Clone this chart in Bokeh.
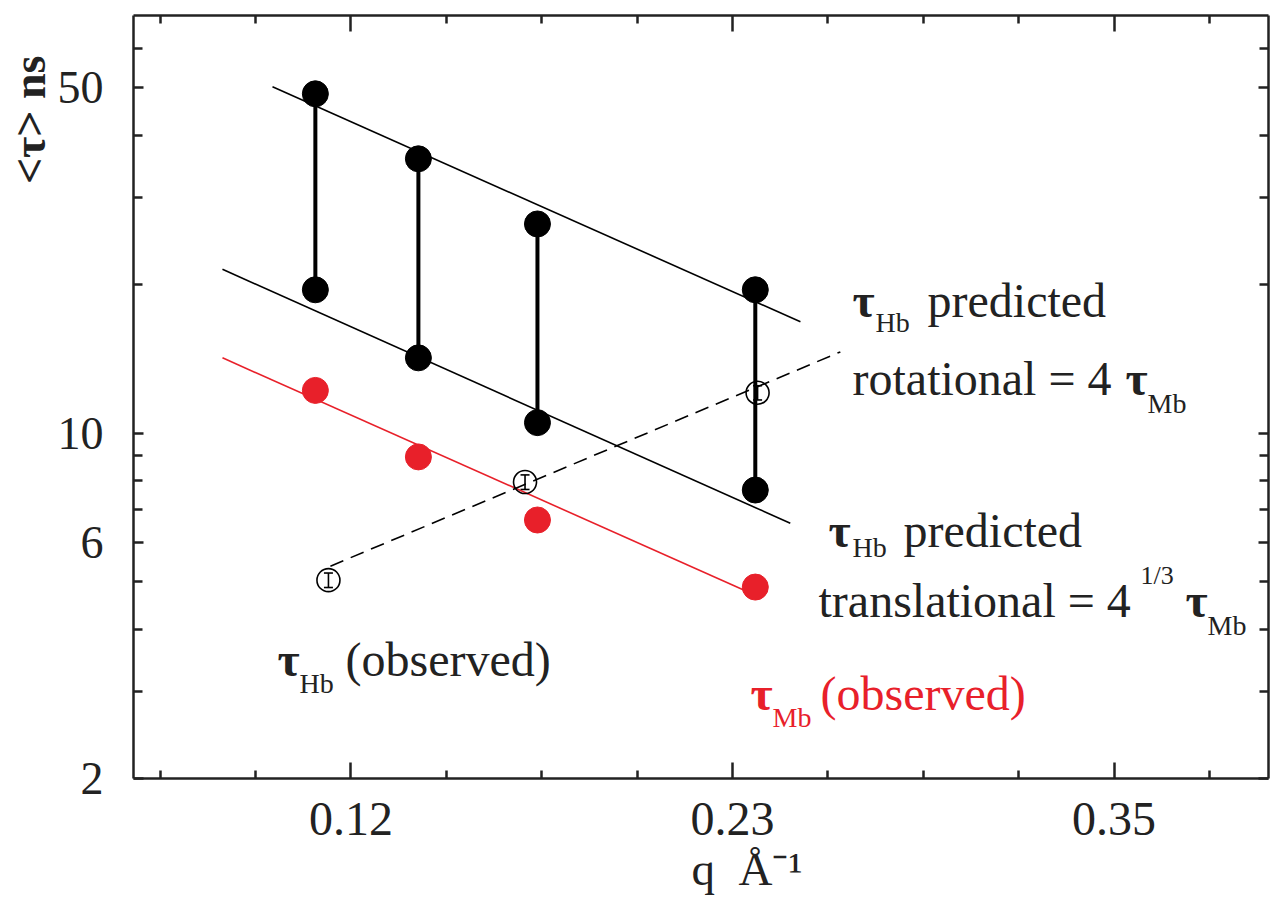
import math
from bokeh.plotting import figure
from bokeh.models import (FixedTicker, LinearAxis, LogAxis, Label, Whisker, TeeHead,
                          ColumnDataSource, Title, CustomJSTickFormatter)
from bokeh.embed import file_html
from bokeh.resources import INLINE

# ---------------- data ----------------
Q = [0.1058, 0.1373, 0.1737, 0.2403]               # q (1/Angstrom)
TAU_HB_ROT = [48.6, 35.9, 26.5, 19.5]              # tau_Hb predicted rotational (ns)
TAU_HB_TRANS = [19.5, 14.2, 10.5, 7.67]            # tau_Hb predicted translational (ns)
TAU_MB_OBS = [12.2, 8.95, 6.67, 4.88]              # tau_Mb observed (ns)

Q_HB_OBS = [0.1098, 0.1699, 0.2410]                # tau_Hb observed
TAU_HB_OBS = [5.04, 7.96, 12.07]
ERR_HB_OBS = [0.17, 0.27, 0.40]

ROT_LINE_Q = [0.0927, 0.2541]
ROT_LINE_TAU = [50.2, 16.8]
TRANS_LINE_Q = [0.0774, 0.2510]
TRANS_LINE_TAU = [21.45, 6.57]
MB_LINE_Q = [0.0774, 0.2419]
MB_LINE_TAU = [14.2, 4.65]
HB_OBS_LINE_Q = [0.1104, 0.2663]
HB_OBS_LINE_TAU = [5.38, 14.6]

X_MAJOR = [7 / 60, 14 / 60, 21 / 60]
X_LABELS = ["0.12", "0.23", "0.35"]
X_MINOR = [0.058333, 0.0875, 0.145833, 0.175, 0.204167, 0.2625, 0.291667, 0.320833, 0.379167]
Y_MAJOR = [2, 6, 10, 50]
Y_LABELS = ["2", "6", "10", "50"]
Y_MINOR = [3, 4, 5, 7, 8, 9, 20, 30, 40, 60]

XS, XE = 0.0502, 0.3972
YS, YE = 2, 70

W, H = 1274, 911
BL, BR, BT, BB = 133, 6, 15, 133

FONT = "Liberation Serif"
INK = "#222222"
RED = "#e8202a"

p = figure(width=W, height=H, x_range=(XS, XE), y_range=(YS, YE), y_axis_type="log",
           output_backend="svg", toolbar_location=None,
           min_border_left=BL, min_border_right=BR, min_border_top=BT, min_border_bottom=BB)
p.grid.visible = False
p.outline_line_color = None
p.background_fill_color = "white"
p.border_fill_color = "white"

def style_axis(ax, labels=True):
    ax.axis_line_color = INK
    ax.axis_line_width = 2.5
    ax.major_tick_line_color = INK
    ax.minor_tick_line_color = INK
    ax.major_tick_line_width = 2.5
    ax.minor_tick_line_width = 2.5
    ax.major_tick_out = 0
    ax.minor_tick_out = 0
    ax.major_label_text_font = FONT
    ax.major_label_text_color = INK
    if labels:
        ax.major_label_text_font_size = "48px"
    else:
        ax.formatter = CustomJSTickFormatter(code="return ''")
        ax.major_label_text_font_size = "1px"
        ax.major_label_standoff = 0

xt = FixedTicker(ticks=X_MAJOR, minor_ticks=X_MINOR)
yt = FixedTicker(ticks=Y_MAJOR, minor_ticks=Y_MINOR)

bx = p.xaxis[0]
bx.ticker = xt
bx.major_label_overrides = {t: l for t, l in zip(X_MAJOR, X_LABELS)}
style_axis(bx)
bx.major_tick_in = 16
bx.minor_tick_in = 8
bx.major_label_standoff = 24

ly = p.yaxis[0]
ly.ticker = yt
ly.major_label_overrides = {t: l for t, l in zip(Y_MAJOR, Y_LABELS)}
style_axis(ly)
ly.major_label_text_font_size = "46px"
ly.major_tick_in = 10
ly.minor_tick_in = 9
ly.major_label_standoff = 30

tx = LinearAxis(ticker=xt)
style_axis(tx, labels=False)
tx.major_tick_in = 16
tx.minor_tick_in = 8
p.add_layout(tx, "above")

ry = LogAxis(ticker=yt)
style_axis(ry, labels=False)
ry.major_tick_in = 10
ry.minor_tick_in = 9
p.add_layout(ry, "right")

# axis titles
p.add_layout(Title(text="<τ> ns", align="right", offset=40, standoff=0,
                   text_font=FONT, text_font_size="46px", text_font_style="bold",
                   text_color=INK), "left")
p.add_layout(Title(text="q\u00a0\u00a0Å⁻¹", align="left", offset=558, standoff=10,
                   vertical_align="top",
                   text_font=FONT, text_font_size="47px", text_font_style="normal",
                   text_color=INK), "below")

# ---------------- lines ----------------
p.line(ROT_LINE_Q, ROT_LINE_TAU, line_color="black", line_width=1.6)
p.line(TRANS_LINE_Q, TRANS_LINE_TAU, line_color="black", line_width=1.6)
p.line(MB_LINE_Q, MB_LINE_TAU, line_color=RED, line_width=1.6)
p.line(HB_OBS_LINE_Q, HB_OBS_LINE_TAU, line_color="black", line_width=1.6, line_dash="14 8")

# vertical bars between predicted values
p.segment(x0=Q, y0=TAU_HB_TRANS, x1=Q, y1=TAU_HB_ROT, line_color="black", line_width=4)

# points
p.scatter(Q, TAU_HB_ROT, size=26, color="black")
p.scatter(Q, TAU_HB_TRANS, size=26, color="black")
p.scatter(Q, TAU_MB_OBS, size=26, color=RED)

src = ColumnDataSource(dict(q=Q_HB_OBS, t=TAU_HB_OBS,
                            lo=[t - e for t, e in zip(TAU_HB_OBS, ERR_HB_OBS)],
                            up=[t + e for t, e in zip(TAU_HB_OBS, ERR_HB_OBS)]))
p.scatter("q", "t", source=src, size=23, fill_color=None, line_color="black", line_width=1.6)
p.add_layout(Whisker(source=src, base="q", lower="lo", upper="up", dimension="height",
                     line_color="black", line_width=1.6,
                     lower_head=TeeHead(size=9, line_width=1.6, line_color="black"),
                     upper_head=TeeHead(size=9, line_width=1.6, line_color="black")))

# ---------------- annotations ----------------
FW = W - BL - BR
FH = H - BT - BB

def px_x(px):
    return XS + (px - BL) / FW * (XE - XS)

def px_y(py):
    f = (H - BB - py) / FH
    return 10 ** (math.log10(YS) + f * (math.log10(YE) - math.log10(YS)))

def txt(px, py, s, size=48, color=INK, style="normal"):
    p.add_layout(Label(x=px_x(px), y=px_y(py), text=s, text_font=FONT,
                       text_font_size=f"{size}px", text_color=color, text_font_style=style,
                       text_align="left", text_baseline="alphabetic"))

SUB = 28
# rotational prediction
txt(852, 300, "τ", style="bold")
txt(875, 322, "Hb", size=SUB)
txt(927, 300, "predicted")
txt(852, 378, "rotational = 4")
txt(1125, 378, "τ", style="bold")
txt(1147, 403, "Mb", size=SUB)
# translational prediction
txt(828, 530, "τ", style="bold")
txt(852, 547, "Hb", size=SUB)
txt(903, 530, "predicted")
txt(818, 600, "translational = 4")
txt(1140, 575, "1/3", size=26)
txt(1185, 600, "τ", style="bold")
txt(1207, 625, "Mb", size=SUB)
# observed labels
txt(277, 659, "τ", style="bold")
txt(299, 683, "Hb", size=SUB)
txt(345, 659, "(observed)")
txt(750, 693, "τ", color=RED, style="bold")
txt(772, 717, "Mb", size=SUB, color=RED)
txt(820, 693, "(observed)", color=RED)

open("out.html", "w").write(file_html(p, INLINE))
